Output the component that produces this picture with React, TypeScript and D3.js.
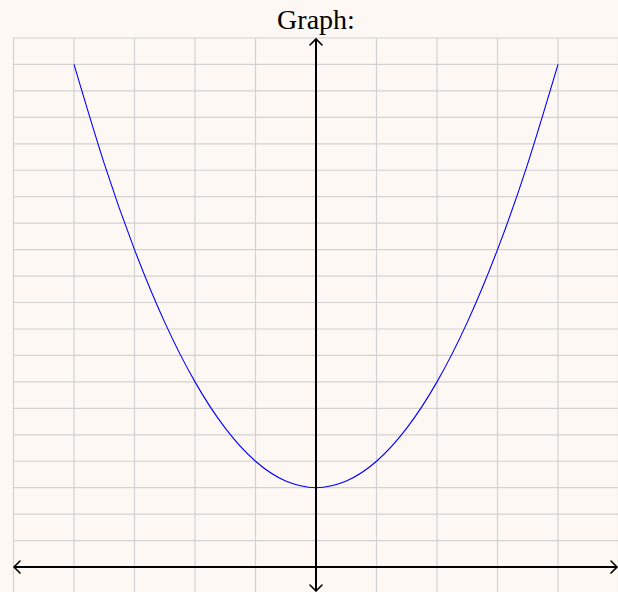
import React from "react";
import * as d3 from "d3";

const xTicks = [-5, -4, -3, -2, -1, 0, 1, 2, 3, 4, 5];
const yTicks = [-1, 0, 1, 2, 3, 4, 5, 6, 7, 8, 9, 10, 11, 12, 13, 14, 15, 16, 17, 18, 19, 20];
const curveX = [-4, -3.5, -3, -2.5, -2, -1.5, -1, -0.5, 0, 0.5, 1, 1.5, 2, 2.5, 3, 3.5, 4];
const curveY = [19, 15.25, 12, 9.25, 7, 5.25, 4, 3.25, 3, 3.25, 4, 5.25, 7, 9.25, 12, 15.25, 19];
const title = "Graph:";

const W = 618;
const H = 592;

export default function App() {
  const x = d3.scaleLinear().domain([-5, 5]).range([13.5, 618.5]);
  const y = d3.scaleLinear().domain([-1, 20]).range([593.5, 38]);
  const pts = curveX.map((v, i) => [v, curveY[i]] as [number, number]);
  const line = d3
    .line<[number, number]>()
    .x((d) => x(d[0]))
    .y((d) => y(d[1]))
    .curve(d3.curveNatural);
  const gridColor = "#d2d2d2";
  const x0 = x(0);
  const y0 = y(0);
  const arrow = "M -6 -6 Q -1.5 -1.5 0 0 Q -1.5 1.5 -6 6";
  const left = x(-5) + 0.5;
  const right = 617;
  const top = y(20) + 1;
  const bottom = 591;
  return (
    <svg
      width={W}
      height={H}
      style={{ position: "absolute", left: 0, top: 0, display: "block" }}
    >
      <rect x={0} y={0} width={W} height={H} fill="#fdf8f3" />
      <g>
        {xTicks.map((t) => (
          <line
            key={"gx" + t}
            x1={x(t)}
            x2={x(t)}
            y1={y(20)}
            y2={y(-1)}
            stroke={gridColor}
            strokeWidth={1.2}
          />
        ))}
        {yTicks.map((t) => (
          <line
            key={"gy" + t}
            x1={x(-5)}
            x2={x(5)}
            y1={y(t)}
            y2={y(t)}
            stroke={gridColor}
            strokeWidth={1.2}
          />
        ))}
      </g>
      <path d={line(pts) || ""} fill="none" stroke="#0000ff" strokeWidth={1.1} />
      <g stroke="#000" fill="none" strokeWidth={2}>
        <line x1={left} x2={right} y1={y0} y2={y0} />
        <line x1={x0} x2={x0} y1={top} y2={bottom} />
      </g>
      <g stroke="#000" fill="none" strokeWidth={1.6} strokeLinecap="round">
        <path d={arrow} transform={`translate(${right},${y0})`} />
        <path d={arrow} transform={`translate(${left},${y0}) rotate(180)`} />
        <path d={arrow} transform={`translate(${x0},${top}) rotate(-90)`} />
        <path d={arrow} transform={`translate(${x0},${bottom}) rotate(90)`} />
      </g>
      <text
        x={x0}
        y={29}
        textAnchor="middle"
        fontFamily="'Liberation Serif', serif"
        fontSize={28}
        fill="#000"
      >
        {title}
      </text>
    </svg>
  );
}
